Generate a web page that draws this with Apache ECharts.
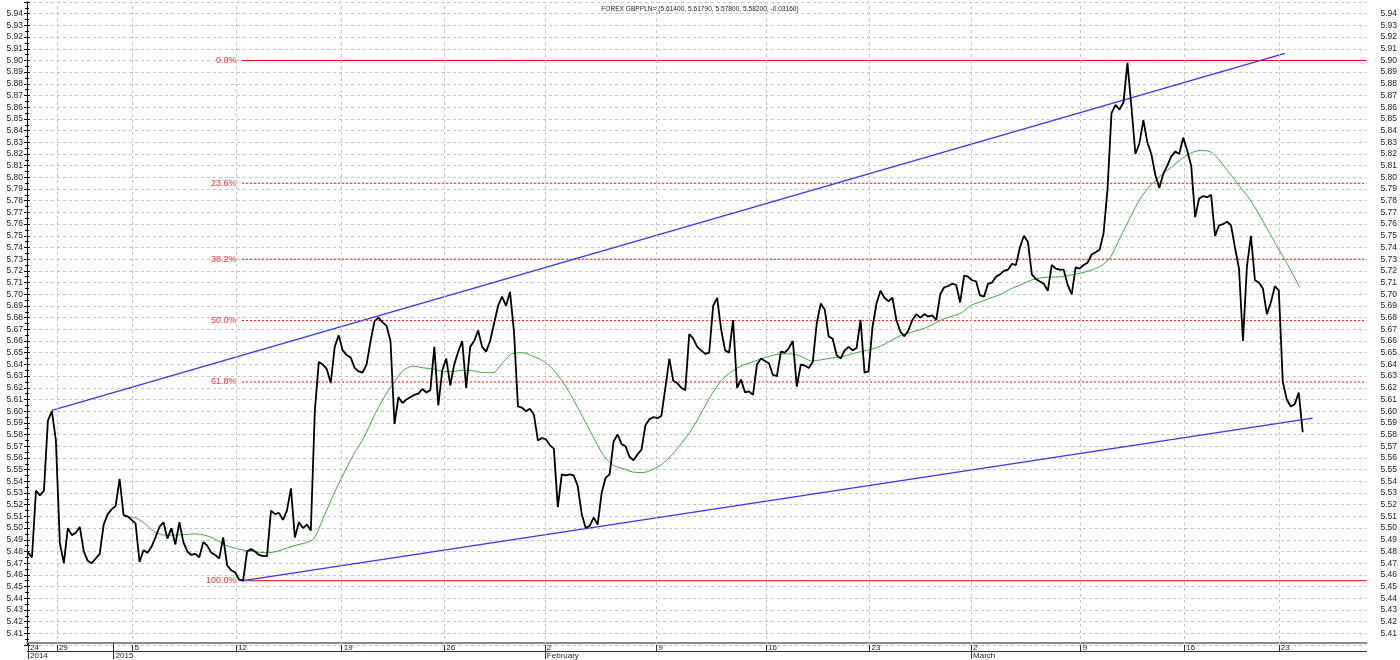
<!DOCTYPE html>
<html><head><meta charset="utf-8">
<script src="https://cdn.jsdelivr.net/npm/echarts@6/dist/echarts.min.js"></script>
<style>html,body{margin:0;padding:0;background:#fff}#c{width:1400px;height:660px}</style>
</head><body><div id="c"></div>
<script>
const TITLE = 'FOREX GBPPLN= (5.61400, 5.61790, 5.57800, 5.58200, -0.03160)';
// x axis unit: bar index along the (gapless) trading-time axis
const X_MAX = 1345;
const PRICE_START = 1, PRICE_STEP = 4;
const price = [
5.479,5.475,5.532,5.528,5.532,5.592,5.600,5.575,5.487,5.470,
5.500,5.494,5.496,5.501,5.480,5.472,5.470,5.474,5.478,5.503,
5.512,5.516,5.519,5.542,5.511,5.510,5.507,5.504,5.471,5.481,
5.479,5.484,5.492,5.501,5.505,5.491,5.500,5.486,5.505,5.488,
5.480,5.477,5.478,5.475,5.488,5.485,5.479,5.477,5.474,5.492,
5.468,5.464,5.462,5.456,5.455,5.480,5.482,5.480,5.477,5.476,
5.476,5.515,5.512,5.513,5.507,5.515,5.534,5.492,5.505,5.500,
5.503,5.498,5.600,5.642,5.640,5.636,5.624,5.655,5.665,5.652,
5.648,5.646,5.637,5.634,5.633,5.640,5.660,5.677,5.680,5.676,
5.673,5.660,5.589,5.612,5.607,5.610,5.612,5.614,5.615,5.619,
5.616,5.618,5.655,5.605,5.635,5.645,5.622,5.640,5.651,5.660,
5.620,5.655,5.660,5.669,5.655,5.651,5.660,5.675,5.690,5.698,
5.690,5.702,5.668,5.604,5.603,5.600,5.602,5.597,5.575,5.577,
5.576,5.571,5.568,5.518,5.546,5.545,5.546,5.545,5.536,5.512,
5.500,5.502,5.509,5.503,5.530,5.543,5.546,5.574,5.580,5.572,
5.570,5.561,5.558,5.563,5.567,5.588,5.593,5.595,5.594,5.596,
5.620,5.645,5.626,5.624,5.620,5.618,5.666,5.662,5.655,5.652,
5.649,5.650,5.690,5.697,5.670,5.652,5.650,5.678,5.620,5.627,
5.616,5.617,5.614,5.640,5.645,5.643,5.641,5.631,5.630,5.651,
5.650,5.654,5.660,5.621,5.640,5.639,5.637,5.642,5.675,5.692,
5.687,5.664,5.662,5.648,5.645,5.652,5.655,5.652,5.654,5.678,
5.633,5.634,5.672,5.692,5.703,5.697,5.694,5.697,5.678,5.668,
5.664,5.669,5.678,5.683,5.680,5.683,5.681,5.682,5.678,5.700,
5.706,5.707,5.709,5.708,5.693,5.716,5.715,5.712,5.711,5.699,
5.698,5.709,5.710,5.715,5.717,5.720,5.721,5.726,5.725,5.740,
5.750,5.745,5.717,5.713,5.711,5.709,5.703,5.725,5.722,5.721,
5.721,5.708,5.700,5.723,5.722,5.725,5.727,5.734,5.736,5.738,
5.752,5.790,5.855,5.862,5.858,5.864,5.898,5.860,5.820,5.829,
5.849,5.830,5.820,5.802,5.791,5.803,5.810,5.818,5.822,5.820,
5.834,5.823,5.810,5.766,5.782,5.784,5.783,5.785,5.750,5.759,
5.760,5.762,5.759,5.740,5.722,5.660,5.724,5.750,5.712,5.710,
5.705,5.683,5.693,5.707,5.703,5.625,5.610,5.604,5.606,5.616,
5.582];
const MA_START = 98, MA_STEP = 10;
const ma = [
5.5095,5.509,5.504,5.497,5.494,5.494,5.4944,5.495,5.494,5.491,
5.486,5.483,5.481,5.480,5.479,5.4795,5.482,5.485,5.487,5.491,
5.5095,5.529,5.5466,5.563,5.577,5.595,5.611,5.624,5.635,5.6385,
5.637,5.636,5.634,5.634,5.635,5.6345,5.633,5.633,5.642,5.6495,
5.650,5.647,5.643,5.636,5.625,5.611,5.595,5.579,5.5635,5.554,
5.551,5.548,5.5475,5.550,5.555,5.563,5.5735,5.585,5.600,5.615,
5.627,5.634,5.639,5.642,5.645,5.6475,5.649,5.649,5.6465,5.643,
5.644,5.6455,5.6465,5.649,5.651,5.653,5.656,5.6605,5.665,5.6675,
5.670,5.6734,5.678,5.681,5.684,5.6905,5.6937,5.697,5.700,5.7047,
5.708,5.712,5.714,5.7147,5.715,5.7165,5.718,5.7205,5.724,5.732,
5.749,5.766,5.782,5.793,5.801,5.808,5.815,5.8205,5.823,5.822,
5.814,5.803,5.792,5.781,5.767,5.752,5.737,5.722,5.706];
const weekBars = [1,30,106,210,316,419,520,632,742,846,948,1058,1162,1257];
const weekLabels = ['24','29','5','12','19','26','2','9','16','23','2','9','16','23'];
const periodBars = [1,87,520,948];
const periodLabels = ['2014','2015','February','March'];
const fibHigh = 5.90, fibLow = 5.455, fibStartBar = 216;
const fibRatios = [0, 0.236, 0.382, 0.5, 0.618, 1];
const upperChannel = [[25,5.6007],[1263,5.906]];
const lowerChannel = [[217,5.455],[1291,5.594]];
const Y_MIN = 5.40, Y_MAX = 5.95, Y_STEP = 0.01;

const narrow = "'Liberation Sans Narrow','Liberation Sans',Arial,sans-serif";
const regular = "'Liberation Sans',Arial,sans-serif";
const grid = {left:27, right:28, top:2, bottom:14};
const gridLine = {color:'#c4c4c4', type:[3,3], width:1};
const RED = '#ff0000';

const priceData = price.map((v,i)=>[PRICE_START + i*PRICE_STEP, v]);
const maData = ma.map((v,i)=>[MA_START + i*MA_STEP, v]);

const fibSeries = fibRatios.map(r => {
  const lvl = fibHigh - r*(fibHigh - fibLow);
  const solid = (r === 0 || r === 1);
  return {
    name:'fib'+r, type:'line', z:2, silent:true, color:RED,
    symbol:'rect', symbolSize:1, showSymbol:true,
    itemStyle:{color:'rgba(255,255,255,0)'},
    lineStyle:{color:RED, width:1, type: solid ? 'solid' : [2,2]},
    emphasis:{disabled:true},
    labelLayout:{hideOverlap:false},
    data:[
      {value:[fibStartBar, lvl], label:{show:true, position:'left', distance:5,
        formatter:(r*100).toFixed(1)+'%', color:'#ff3030', fontSize:9, fontFamily:regular}},
      {value:[X_MAX, lvl], label:{show:false}}
    ]
  };
});

function yAxis(pos){
  return {
    type:'value', position:pos, min:Y_MIN, max:Y_MAX, interval:Y_STEP,
    axisLine:{show:true, lineStyle:{color:'#000', width:1}},
    axisTick:{show:true, length:3, lineStyle:{color:'#000'}},
    minorTick:{show:true, splitNumber:2, length:2, lineStyle:{color:'#000'}},
    splitLine:{show: pos==='left', lineStyle:gridLine},
    axisLabel:{formatter:v=>v.toFixed(2), showMinLabel:false, showMaxLabel:false,
      fontSize:8.5, color:'#222', fontFamily:narrow, margin: pos==='left'?4:14}
  };
}

const option = {
  animation:false,
  backgroundColor:'#fff',
  title:{text:TITLE, left:'center', top:1, textStyle:{fontSize:6.6, fontWeight:'normal', color:'#222', fontFamily:narrow}},
  grid,
  xAxis:[
    {type:'value', min:0, max:X_MAX, position:'bottom', offset:-2,
     axisLine:{show:true, onZero:false, lineStyle:{color:'#8a8a8a', width:2}},
     axisTick:{show:true, customValues: weekBars.concat([periodBars[1]]), length:8, lineStyle:{color:'#333'}},
     axisLabel:{show:true, customValues: weekBars, formatter:v=>weekLabels[weekBars.indexOf(v)] || '',
       align:'left', verticalAlign:'top', padding:[0,0,0,2], margin:1, fontSize:8, color:'#222', fontFamily:narrow},
     splitLine:{show:false}, minorTick:{show:false}},
    {type:'value', min:0, max:X_MAX, position:'bottom', offset:6,
     axisLine:{show:true, onZero:false, lineStyle:{color:'#333', width:1}},
     axisTick:{show:true, customValues: periodBars, length:8, lineStyle:{color:'#333'}},
     axisLabel:{show:true, customValues: periodBars, formatter:v=>periodLabels[periodBars.indexOf(v)] || '',
       align:'left', verticalAlign:'top', padding:[0,0,0,2], margin:1, fontSize:8, color:'#222', fontFamily:narrow},
     splitLine:{show:false}}
  ],
  yAxis:[yAxis('left'), yAxis('right')],
  series:[
    {name:'grid', type:'line', data:[], z:1, silent:true,
     markLine:{silent:true, symbol:['none','none'], label:{show:false}, lineStyle:gridLine,
       data: weekBars.slice(1).map(b=>({xAxis:b}))}}
  ].concat(fibSeries).concat([
    {name:'upper', type:'line', data:upperChannel, showSymbol:false, symbol:'none', z:3,
     lineStyle:{color:'#3535ff', width:1.3}},
    {name:'lower', type:'line', data:lowerChannel, showSymbol:false, symbol:'none', z:3,
     lineStyle:{color:'#3535ff', width:1.3}},
    {name:'ma', type:'line', data:maData, showSymbol:false, symbol:'none', z:4, smooth:0.3,
     lineStyle:{color:'#3aaa3a', width:1}},
    {name:'price', type:'line', data:priceData, showSymbol:false, symbol:'none', z:5,
     lineStyle:{color:'#000', width:1.8}}
  ])
};
const chart = echarts.init(document.getElementById('c'));
chart.setOption(option);
</script></body></html>
